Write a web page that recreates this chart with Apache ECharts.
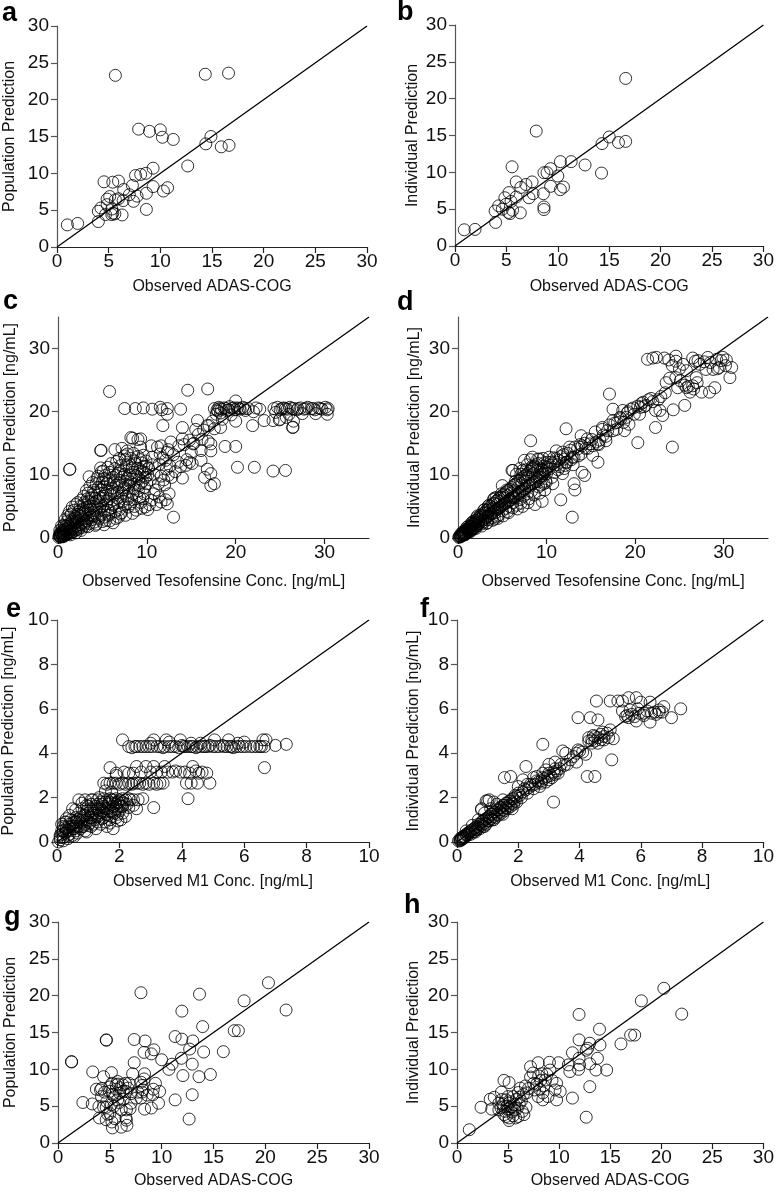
<!DOCTYPE html>
<html>
<head>
<meta charset="utf-8">
<script src="https://cdn.jsdelivr.net/npm/echarts@6/dist/echarts.min.js"></script>
<style>
html,body{margin:0;padding:0;background:#fff;}
#chart{width:777px;height:1193px;}
</style>
</head>
<body>
<div id="chart"></div>
<script>
// ---------- data ----------
const panelA = [[1.0,3.0],[2.0,3.2],[14.35,23.45],[5.65,23.3],[16.6,23.6],[7.9,16.0],[8.95,15.7],[10.0,15.9],[10.2,14.9],[11.25,14.6],[14.9,15.0],[14.4,14.0],[15.9,13.6],[16.65,13.8],[12.65,11.0],[9.3,10.7],[8.6,10.0],[7.6,9.7],[8.1,9.85],[4.55,8.85],[5.4,8.8],[5.95,8.95],[7.3,8.35],[6.45,7.8],[9.3,8.2],[10.7,8.05],[10.3,7.6],[8.65,7.3],[7.75,6.9],[7.0,7.1],[5.1,6.85],[5.95,6.55],[5.65,6.4],[4.85,6.5],[6.4,6.3],[7.4,6.2],[4.25,5.3],[4.0,4.85],[5.3,5.15],[5.4,4.6],[5.3,4.4],[5.6,4.5],[6.3,4.35],[8.65,5.1],[4.0,3.45],[4.7,4.4],[4.85,5.75]];
const panelB = [[0.9,2.2],[1.95,2.25],[16.6,22.75],[7.9,15.6],[5.55,10.75],[14.3,13.9],[15.0,14.8],[15.9,14.05],[16.6,14.2],[14.25,9.9],[12.65,11.0],[11.3,11.45],[10.25,11.45],[9.3,10.5],[8.65,9.95],[8.95,9.95],[10.0,9.5],[9.3,8.1],[8.6,7.1],[10.25,7.65],[10.55,8.0],[7.5,8.7],[6.9,8.35],[6.4,7.95],[5.95,8.7],[7.6,7.1],[7.2,6.55],[5.95,6.65],[5.25,7.25],[4.85,6.55],[5.45,6.05],[4.95,5.65],[4.25,5.45],[3.9,4.75],[4.6,5.0],[5.2,4.55],[5.6,4.85],[6.35,4.5],[3.95,3.2],[8.65,5.3],[8.65,4.95],[5.35,4.4]];
const panelC = [
[0.1,0.1],[0.2,0.3],[0.3,0.2],[0.4,0.5],[0.5,0.3],[0.6,0.8],[0.7,0.5],[0.8,1.1],[0.9,0.6],[1.0,1.4],[1.1,0.9],[1.2,1.8],[1.3,1.0],[1.4,2.2],[1.5,1.3],[1.6,2.6],[1.7,1.5],[1.8,3.0],[1.9,1.7],[2.0,2.4],[0.3,0.9],[0.5,1.6],[0.7,2.0],[1.0,2.6],[1.2,3.3],[1.5,3.8],[1.8,4.4],[0.2,0.6],[0.6,1.2],[0.9,1.9],[1.3,4.2],[2.0,5.3],
[2.1,3.2],[2.2,2.0],[2.3,4.1],[2.4,2.8],[2.5,5.0],[2.6,3.5],[2.7,2.4],[2.8,4.6],[2.9,3.0],[3.0,5.6],[3.1,3.8],[3.2,2.7],[3.3,6.2],[3.4,4.4],[3.5,9.7],[3.6,5.1],[3.7,3.3],[3.8,6.8],[3.9,4.0],[4.0,7.5],[2.3,1.6],[2.6,6.0],[3.0,2.2],[3.4,7.1],[3.8,2.9],[4.0,5.5],[2.8,3.9],[3.6,8.2],
[4.1,3.5],[4.2,6.3],[4.3,8.6],[4.4,4.9],[4.5,9.8],[4.6,3.0],[4.7,7.0],[4.8,5.4],[4.9,10.5],[5.0,2.6],[5.1,6.6],[5.2,8.1],[5.3,4.2],[5.4,9.2],[5.5,5.9],[5.6,7.6],[5.7,3.6],[5.8,10.4],[5.9,6.9],[6.0,4.8],[4.3,2.2],[4.6,5.9],[5.0,8.9],[5.4,2.8],[5.6,11.2],[5.9,8.5],[4.8,11.1],[5.3,9.9],
[6.1,7.9],[6.2,9.6],[6.3,5.4],[6.4,11.0],[6.5,3.1],[6.6,8.4],[6.7,6.3],[6.8,10.2],[6.9,4.5],[7.0,9.1],[7.1,11.5],[7.2,7.1],[7.3,5.8],[7.4,10.8],[7.5,8.0],[7.6,12.4],[7.7,6.6],[7.8,9.5],[7.9,4.9],[8.0,11.3],[6.2,2.4],[6.6,12.1],[7.0,3.8],[7.5,13.0],[8.0,7.4],[6.4,14.0],[7.2,14.2],
[8.1,8.9],[8.2,12.6],[8.3,6.1],[8.4,10.4],[8.5,13.4],[8.6,7.8],[8.7,11.8],[8.8,4.4],[8.9,9.7],[9.0,12.9],[9.1,8.3],[9.2,10.9],[9.3,5.6],[9.4,11.9],[9.5,9.0],[9.6,13.1],[9.7,7.0],[9.8,10.3],[9.9,12.2],[10.0,8.6],[8.4,15.8],[9.0,15.6],[8.6,5.0],[9.2,6.4],[9.8,4.9],
[10.2,11.0],[10.4,9.2],[10.6,12.8],[10.8,10.1],[11.0,7.6],[11.2,14.4],[11.4,11.7],[11.6,9.8],[11.8,12.6],[12.0,8.4],[12.2,10.9],[12.4,14.0],[12.6,11.4],[12.8,9.6],[13.0,13.2],[10.5,6.0],[11.1,5.3],[12.5,7.0],[13.2,10.5],[13.5,12.0],[13.8,11.3],[12.7,15.2],[13.6,14.6],
[14.2,14.8],[14.8,15.5],[15.3,15.0],[15.8,16.4],[16.4,17.1],[17.0,17.8],[17.4,18.5],[17.8,19.6],[18.0,20.1],[18.3,19.8],[15.5,17.2],[16.2,15.6],[16.9,15.3],[17.2,13.8],[14.5,12.4],[15.1,11.8],
[17.6,20.5],[17.9,20.3],[18.1,20.7],[18.4,20.4],[18.7,20.6],[19.0,20.2],[19.3,20.8],[19.6,20.5],[19.9,20.3],[20.2,20.6],[20.5,20.4],[20.8,20.7],[21.1,20.2],[21.4,20.5],[22.3,20.6],[22.7,20.4],[24.3,20.5],[24.7,20.7],[25.0,20.3],[25.4,20.6],[25.8,20.4],[26.1,20.7],[26.5,20.5],[26.9,20.3],[27.3,20.6],[27.7,20.4],[28.1,20.7],[28.5,20.5],[28.9,20.3],[29.3,20.6],[29.7,20.4],[30.1,20.7],[30.4,20.5],[29.0,19.7],[30.3,19.6],[27.5,19.7],[26.0,19.6],[24.5,19.9],[22.0,20.0],[18.5,18.8],[19.5,19.5],[20.0,18.5],[25.0,18.8],[26.5,18.5],
[5.8,23.2],[14.6,23.4],[16.85,23.6],[1.3,10.85],[1.35,10.9],[4.8,13.85],[4.85,13.9],[7.5,20.5],[8.7,20.5],[9.6,20.6],[10.6,20.4],[11.5,20.7],[11.7,20.3],[12.3,20.5],[13.8,20.4],[20.0,21.7],[21.9,17.8],[23.2,18.6],[24.2,18.6],[24.9,18.7],[25.7,19.1],[26.4,17.5],[26.45,17.55],[20.2,11.2],[22.1,11.2],[24.2,10.6],[25.6,10.7],[18.8,14.5],[20.0,14.5],[16.1,13.85],[16.1,12.3],[16.5,9.6],[17.2,10.2],[17.6,8.6],[17.2,8.3],[16.8,10.9],[14.0,9.5],[13.0,3.3],[12.1,6.05],[12.3,5.4],[11.4,6.5],[11.6,5.7],[10.1,4.5],[14.0,17.5],[14.0,15.7],[15.7,18.6],[16.8,17.8],[17.6,17.3],[18.3,17.5],[15.2,14.9],[15.0,13.6],[14.4,11.5],[14.8,12.0],[17.2,14.9],[12.3,13.6],[10.5,14.6],[9.3,15.7],[8.2,15.9],[7.8,13.8],[9.3,14.4],[11.6,14.6],[12.3,19.6],[11.8,17.8]
];
const panelCcore = [
[0.15,0.4],[0.25,0.15],[0.35,0.7],[0.45,0.25],[0.55,1.0],[0.65,0.35],[0.75,1.4],[0.85,0.45],[0.95,1.1],[1.05,0.55],[1.15,2.1],[1.25,0.7],[1.35,1.6],[1.45,0.8],[1.55,2.9],[1.65,1.0],[1.75,2.2],[1.85,1.1],[1.95,3.4],[2.05,1.3],
[2.15,2.6],[2.25,3.7],[2.35,1.4],[2.45,4.4],[2.55,2.1],[2.65,3.0],[2.75,1.7],[2.85,5.2],[2.95,2.5],[3.05,4.1],[3.15,1.9],[3.25,4.9],[3.35,3.1],[3.45,5.8],[3.55,2.3],[3.65,4.6],[3.75,6.3],[3.85,3.6],[3.95,5.0],[4.05,2.5],
[4.15,7.2],[4.25,4.4],[4.35,5.8],[4.45,3.3],[4.55,8.0],[4.65,4.6],[4.75,6.4],[4.85,3.6],[4.95,7.6],[5.05,5.0],[5.15,9.4],[5.25,3.3],[5.35,7.0],[5.45,5.4],[5.55,8.6],[5.65,4.4],[5.75,6.2],[5.85,9.1],[5.95,3.9],[6.05,7.4],
[6.15,5.2],[6.25,8.9],[6.35,6.8],[6.45,4.2],[6.55,9.9],[6.65,7.2],[6.75,5.6],[6.85,8.7],[6.95,10.6],[7.05,6.6],[7.15,4.0],[7.25,9.6],[7.35,7.6],[7.45,5.2],[7.55,10.1],[7.65,8.5],[7.75,11.6],[7.85,6.2],[7.95,8.3],[8.05,10.0],
[8.15,5.4],[8.25,9.3],[8.35,11.1],[8.45,7.0],[8.55,8.5],[8.65,12.2],[8.75,9.9],[8.85,6.6],[8.95,11.0],[9.05,7.5],[9.15,9.4],[9.25,12.4],[9.35,8.7],[9.45,10.4],[9.55,6.2],[9.65,11.3],[9.75,8.0],[9.85,9.6],[9.95,11.4],[10.1,10.0],
[0.2,1.2],[0.4,1.9],[0.8,2.9],[1.1,3.6],[1.6,4.9],[2.2,5.6],[2.9,6.6],[3.2,7.5],[3.9,8.8],[4.4,9.4],[5.1,10.6],[6.0,11.8],[6.9,12.6],[7.8,13.3],[0.6,0.2],[1.4,0.5],[2.0,0.8],[2.6,1.2],[3.4,1.8],[4.2,2.0],[5.2,2.1],[5.8,2.7],[6.8,3.3],[7.6,3.6],[8.4,3.9],[9.4,4.7],[10.3,5.3],[10.8,7.0],[11.3,8.6],[11.9,9.2],[12.4,9.9],[10.6,11.6],[11.5,13.3],[12.1,12.3],
[18.2,20.5],[18.9,20.5],[19.2,20.3],[19.8,20.6],[20.4,20.5],[21.0,20.5],[25.2,20.5],[25.6,20.5],[26.3,20.5],[27.0,20.5],[27.9,20.5],[28.7,20.5],[29.5,20.5],[30.3,20.3]
];
const panelD = [
[0.1,0.1],[0.2,0.3],[0.3,0.2],[0.4,0.5],[0.5,0.4],[0.6,0.7],[0.7,0.5],[0.8,0.9],[0.9,0.7],[1.0,1.2],[1.1,0.9],[1.2,1.4],[1.3,1.1],[1.4,1.7],[1.5,1.2],[1.6,1.9],[1.7,1.4],[1.8,2.2],[1.9,1.6],[2.0,2.4],[0.3,0.6],[0.6,1.0],[0.9,1.4],[1.2,1.9],[1.5,2.3],[1.8,2.7],[2.1,3.2],[0.8,0.5],[1.4,1.0],[2.0,1.5],
[2.2,2.0],[2.4,2.9],[2.6,2.2],[2.8,3.4],[3.0,2.6],[3.2,3.9],[3.4,2.9],[3.6,4.3],[3.8,3.2],[4.0,4.8],[2.5,3.6],[3.0,4.5],[3.5,5.2],[4.0,6.1],[2.7,1.9],[3.3,2.4],[3.9,2.8],[2.3,2.6],[3.1,3.3],[3.7,3.9],
[4.2,4.0],[4.4,5.3],[4.6,3.6],[4.8,5.8],[5.0,4.3],[5.2,6.3],[5.4,4.7],[5.6,6.7],[5.8,5.0],[6.0,7.1],[4.3,6.4],[4.9,7.0],[5.5,7.6],[6.1,10.7],[4.5,3.1],[5.1,3.5],[5.7,4.0],[4.7,4.9],[5.3,5.5],[5.9,6.1],[5.0,8.3],[4.1,3.0],
[6.2,5.6],[6.4,7.5],[6.6,5.2],[6.8,8.0],[7.0,6.1],[7.2,8.6],[7.4,6.6],[7.6,9.1],[7.8,7.0],[8.0,9.6],[6.5,9.0],[7.1,10.1],[7.7,10.8],[8.2,12.4],[6.7,4.6],[7.3,5.0],[7.9,5.6],[6.3,6.4],[6.9,7.0],[7.5,7.7],[7.0,11.0],[8.1,8.2],
[8.3,7.4],[8.5,10.2],[8.7,5.3],[8.9,10.6],[9.1,8.1],[9.3,11.0],[9.5,5.8],[9.7,11.4],[9.9,9.0],[10.1,12.0],[8.4,11.4],[9.0,12.5],[9.6,12.6],[8.6,6.8],[9.2,7.1],[9.8,7.6],[8.8,8.9],[9.4,9.6],[10.0,10.2],
[10.3,10.9],[10.7,11.8],[11.1,12.6],[11.5,11.3],[11.9,13.2],[12.3,12.0],[12.7,13.9],[13.1,12.8],[13.5,14.1],[13.9,13.3],[14.3,15.0],[14.7,14.2],[15.1,15.6],[15.5,16.8],[15.9,14.8],[16.3,17.2],[16.7,16.1],[17.1,17.9],[17.5,18.6],[17.9,17.2],[18.3,19.1],[18.7,18.3],[19.1,19.8],[19.5,20.4],[19.9,19.6],[20.3,20.9],[20.7,21.3],[21.0,20.8],[21.5,21.9],[22.0,21.6],[18.8,17.0],[19.3,18.0],[16.0,15.5],[13.0,11.6],[12.0,11.0],
[11.1,13.8],[11.8,13.6],[12.6,14.4],[10.5,12.0],[11.4,12.3],[12.2,12.0],[12.9,12.8],[9.9,10.7],[10.9,10.4],[11.8,10.2],[9.2,9.6],[9.7,8.6],[10.7,8.6],[8.4,12.8],[9.2,12.5],[8.4,11.2],[7.5,12.3],[10.3,12.8],[8.2,15.4],[6.2,10.7],
[21.4,28.3],[22.4,28.6],[23.3,28.5],[24.6,28.8],[26.5,28.5],[27.1,28.1],[28.2,28.6],[29.2,28.3],[29.7,28.1],[30.3,28.2],[30.9,27.0],[30.7,25.4],[29.0,23.8],[28.0,26.7],[28.8,26.7],[29.5,27.0],[25.4,27.5],[24.6,28.0],[23.5,24.6],[25.1,24.9],[24.8,23.8],[25.8,23.8],[26.5,24.1],[26.2,23.1],[28.4,23.1],[27.5,23.1],[25.8,26.5],[26.9,25.4],[24.6,25.4],[25.6,21.0],[23.1,19.4],[24.3,20.3],[22.3,17.5],[24.2,14.4],[20.3,15.1],[22.3,20.2],[22.8,20.2],[21.2,21.0],[20.5,19.6],[19.0,19.1],[17.1,22.8],[17.5,20.4],[18.6,20.2],[18.0,18.3],[16.3,17.5],[17.5,17.0],[16.7,15.4],[15.8,14.9],[15.2,14.6],[15.2,13.1],[15.8,12.0],[14.6,15.7],[13.9,16.2],[12.2,17.3],[14.0,10.4],[14.3,9.9],[13.1,8.6],[13.2,7.6],[12.9,3.3],[11.6,6.05]
];
const panelDcore = [
[0.15,0.2],[0.25,0.35],[0.35,0.3],[0.45,0.6],[0.55,0.5],[0.65,0.8],[0.75,0.6],[0.85,1.1],[0.95,0.9],[1.05,1.4],[1.15,1.0],[1.25,1.6],[1.35,1.3],[1.45,1.9],[1.55,1.5],[1.65,2.2],[1.75,1.6],[1.85,2.4],[1.95,1.9],[2.05,2.8],
[2.15,2.2],[2.25,3.0],[2.35,2.3],[2.45,3.3],[2.55,2.5],[2.65,3.6],[2.75,2.8],[2.85,3.9],[2.95,2.9],[3.05,4.1],[3.15,3.2],[3.25,4.4],[3.35,3.4],[3.45,4.6],[3.55,3.6],[3.65,5.0],[3.75,3.8],[3.85,5.3],[3.95,4.0],[4.05,5.5],
[4.15,4.3],[4.25,5.8],[4.35,4.5],[4.45,6.0],[4.55,4.6],[4.65,6.3],[4.75,4.8],[4.85,6.5],[4.95,5.1],[5.05,6.8],[5.15,5.3],[5.25,7.0],[5.35,5.5],[5.45,7.3],[5.55,5.6],[5.65,7.5],[5.75,5.9],[5.85,7.7],[5.95,6.0],[6.05,8.0],
[6.15,6.4],[6.25,8.3],[6.35,6.5],[6.45,8.5],[6.55,6.7],[6.65,8.7],[6.75,6.9],[6.85,9.0],[6.95,7.2],[7.05,9.2],[7.15,7.4],[7.25,9.5],[7.35,7.5],[7.45,9.7],[7.55,7.8],[7.65,10.0],[7.75,8.0],[7.85,10.2],[7.95,8.3],[8.05,10.5],
[8.15,8.5],[8.25,10.8],[8.35,8.6],[8.45,11.0],[8.55,8.8],[8.65,11.3],[8.75,9.0],[8.85,11.6],[8.95,9.3],[9.05,11.8],[9.15,9.5],[9.25,10.4],[9.35,8.4],[9.45,10.8],[9.55,9.9],[9.65,10.2],[9.75,11.9],[9.85,10.5],[9.95,8.8],[10.05,11.2],
[10.4,11.5],[10.8,12.7],[11.2,11.6],[11.6,12.9],[12.0,12.5],[12.4,13.4],[12.8,12.4],[13.2,14.4],[13.6,13.0],[14.0,14.6],[10.6,9.6],[11.3,10.8],[12.1,11.5],[0.5,0.9],[1.0,1.7],[1.6,2.5],[2.2,3.5],[2.9,4.4],[3.4,5.0],[4.1,6.3],[3.2,2.3],[4.4,3.4],[5.6,4.2],[6.2,4.8],[7.1,5.5],[8.0,6.2],[6.6,10.1],[7.3,10.7],[7.8,11.6],
[22.0,28.5],[23.8,28.2],[24.2,27.3],[25.0,26.8],[25.6,24.2],[26.0,24.0],[26.8,28.0],[27.3,27.5],[27.8,27.9],[28.5,27.8],[29.3,26.8],[29.9,28.6],[30.2,27.3],[27.0,24.6],[26.6,23.6],[23.9,25.3],[22.6,21.9],[21.8,22.1],[20.9,21.5],[20.6,20.7],[19.8,20.6],[19.2,20.0],[18.4,18.9],[17.7,18.2],[16.9,17.0],[16.4,16.3],[15.6,15.2],[14.9,14.9],[14.4,14.2],[13.8,14.8],[22.9,22.4],[23.4,23.0]
];
const panelE = [
[0.05,0.0],[0.1,0.1],[0.1,0.3],[0.15,0.5],[0.2,0.2],[0.2,0.7],[0.25,0.4],[0.3,0.6],[0.3,0.9],[0.35,0.3],[0.4,0.8],[0.4,0.5],[0.45,1.0],[0.5,0.6],[0.5,0.3],[0.55,0.9],[0.6,0.7],[0.6,1.1],[0.65,0.4],[0.7,0.9],[0.7,1.3],[0.75,0.6],[0.8,1.0],[0.8,1.5],[0.85,0.7],[0.9,1.2],[0.9,0.5],[0.95,1.4],[1.0,0.9],[1.0,1.6],[1.05,1.1],[1.1,0.7],[1.1,1.4],[1.15,1.9],[1.2,1.0],[1.2,1.3],[1.25,1.6],[1.3,0.9],[1.3,1.5],[1.35,1.2],[1.4,1.8],[1.4,0.8],[1.45,1.4],[1.5,1.1],[1.5,1.6],[1.55,0.9],[1.6,1.5],[1.6,0.7],[1.65,1.2],[1.7,1.8],[1.7,1.0],[1.75,1.4],[1.8,1.6],[1.8,0.6],[1.85,1.3],[1.9,1.7],[1.9,1.1],[1.95,1.8],[2.0,1.4],[2.05,1.0],[2.1,1.6],[0.2,0.05],[0.35,0.15],[0.55,0.25],[0.95,0.45],[1.25,0.6],[0.15,0.8],[0.25,0.9],[0.5,1.5],[0.7,1.9],
[0.9,1.9],[1.1,1.9],[1.3,1.9],[1.6,1.9],[1.8,1.9],[2.0,1.9],[2.2,1.9],[2.45,1.9],[2.75,1.95],[2.55,1.5],[4.2,1.95],[3.1,1.55],
[1.5,2.65],[1.7,2.65],[1.9,2.65],[2.1,2.65],[2.3,2.65],[2.45,2.65],[2.65,2.65],[2.85,2.65],[3.1,2.65],[3.3,2.65],[4.15,2.65],[4.3,2.65],[4.5,2.65],[4.9,2.65],
[1.7,3.35],[1.9,3.1],[2.15,3.15],[2.45,3.1],[2.55,3.4],[2.85,3.4],[3.1,3.4],[3.2,3.15],[3.35,3.15],[3.55,3.15],[3.7,3.15],[3.95,3.15],[4.35,3.4],[4.25,3.1],[4.55,3.1],[4.8,3.1],
[2.1,4.6],[2.3,4.3],[2.5,4.3],[2.65,4.3],[2.85,4.3],[3.1,4.6],[3.3,4.3],[3.5,4.6],[3.6,4.3],[3.95,4.6],[4.05,4.3],[4.2,4.3],[4.35,4.3],[4.5,4.3],[4.7,4.3],[4.85,4.3],[5.05,4.6],[5.1,4.3],[5.35,4.3],[5.5,4.6],[5.55,4.3],[5.75,4.3],[5.95,4.3],[6.2,4.3],[6.4,4.3],[6.55,4.3],[6.6,4.6],[6.7,4.6],[6.65,4.3],[7.0,4.35],[7.35,4.4],[6.65,3.35]
];
const panelEcore = [
[0.1,0.2],[0.15,0.35],[0.2,0.5],[0.25,0.65],[0.3,0.45],[0.35,0.55],[0.4,0.35],[0.45,0.7],[0.5,0.85],[0.55,0.6],[0.6,0.9],[0.6,0.5],[0.65,1.0],[0.7,0.7],[0.75,1.1],[0.75,0.85],[0.8,0.7],[0.85,1.2],[0.85,0.95],[0.9,0.8],[0.95,1.0],[1.0,1.3],[1.0,0.75],[1.05,1.5],[1.05,0.85],[1.1,1.1],[1.15,1.3],[1.15,0.8],[1.2,1.5],[1.25,1.2],[1.3,1.7],[1.3,1.15],[1.35,1.45],[1.4,1.3],[1.45,1.7],[1.45,1.05],[1.5,1.35],[1.55,1.8],[1.55,1.5],[1.6,1.25],[1.65,1.7],[1.7,1.4],[1.75,1.15],[1.75,1.9],[1.8,1.35],[1.85,1.75],[1.9,1.5],[1.95,1.25],[2.0,1.65],[2.05,1.85],[2.1,1.3],[2.15,1.75],[0.95,1.65],[1.1,1.7],[0.8,1.75],[0.6,1.45],[0.4,1.2],[0.3,1.05],[1.7,0.85],[2.2,1.15],[2.3,1.55],[2.35,1.9],[1.95,0.95],
[2.4,4.25],[2.55,4.3],[2.75,4.3],[2.95,4.3],[3.05,4.3],[3.2,4.3],[3.4,4.25],[3.45,4.3],[3.7,4.3],[3.8,4.3],[3.9,4.25],[4.0,4.35],[4.1,4.3],[4.3,4.3],[4.45,4.25],[4.6,4.3],[4.75,4.3],[4.9,4.35],[5.0,4.3],[5.2,4.3],[5.3,4.35],[5.45,4.3],[5.6,4.3],[5.65,4.25],[5.85,4.3],[6.05,4.3],[6.3,4.3],[6.5,4.3],[4.3,4.45],[4.6,4.45],[5.8,4.45],[6.0,4.5],[3.0,4.45],[3.6,4.5],
[1.6,2.6],[1.8,2.65],[2.0,2.6],[2.2,2.6],[2.4,2.6],[2.55,2.65],[2.75,2.6],[2.95,2.6],[3.2,2.6],[3.4,2.65],[1.9,3.0],[2.3,3.1],[2.7,3.15],[3.0,3.15],[3.45,3.4],[3.8,3.2],[4.1,3.15],[4.45,3.2],[4.65,3.15],[1.55,2.3],[1.75,2.25],[1.35,2.0],[1.5,1.95],[1.7,1.95],[1.9,1.95],[2.1,1.95],[2.3,1.95],[2.05,1.6],[2.25,1.7],[2.45,1.65],[2.6,1.9]
];
const panelF = [
[0.05,0.05],[0.1,0.15],[0.15,0.1],[0.2,0.25],[0.25,0.2],[0.3,0.35],[0.35,0.3],[0.4,0.45],[0.45,0.35],[0.5,0.55],[0.55,0.45],[0.6,0.65],[0.65,0.55],[0.7,0.8],[0.75,0.6],[0.8,0.9],[0.85,0.7],[0.9,1.0],[0.95,0.8],[1.0,1.1],[1.05,0.95],[1.1,1.25],[1.15,1.0],[1.2,1.35],[1.25,1.1],[1.3,1.45],[1.35,1.2],[1.4,1.55],[1.45,1.3],[1.5,1.65],[1.55,1.4],[1.6,1.75],[1.65,1.5],[1.7,1.85],[1.75,1.6],[1.8,1.95],[1.85,1.7],[1.9,2.1],[1.95,1.8],[2.0,2.2],[2.1,2.0],[2.2,2.4],[2.3,2.2],[2.4,2.6],[2.5,2.4],[2.6,2.75],[2.7,2.5],[2.8,2.9],[2.9,2.7],[3.0,3.1],[3.1,2.9],[3.2,3.3],[3.3,3.1],[3.4,3.5],[0.3,0.5],[0.5,0.75],[0.7,1.0],[0.9,1.3],[1.1,1.5],[1.3,1.7],[1.5,1.9],[0.6,0.45],[0.9,0.7],[1.2,1.0],[1.5,1.25],[1.8,1.5],[0.8,1.45],[1.0,1.85],[1.2,1.8],[0.15,0.2],[0.1,0.05],[0.2,0.15],[2.0,2.5],[2.3,2.6],[2.5,2.9],[2.8,3.1],
[4.55,6.35],[5.0,6.35],[5.25,6.35],[5.4,6.35],[5.6,6.5],[5.85,6.5],[6.0,6.3],[6.3,6.3],[6.1,5.8],[5.4,5.9],[5.5,5.65],[5.8,5.65],[6.3,5.4],[6.45,5.85],[6.6,5.85],[6.75,6.1],[7.0,5.6],[7.3,6.0],[5.85,5.45],[5.6,5.6],[5.0,5.05],
[4.35,5.6],[4.6,5.5],[3.95,5.6],[3.95,4.15],[4.2,3.95],[4.3,4.7],[4.5,4.75],[4.7,4.85],[4.9,4.9],[4.8,4.6],[5.05,3.7],[4.25,2.95],[4.5,2.95],[3.9,3.6],[4.4,4.45],[4.6,4.45],
[3.45,4.1],[3.55,4.0],[3.2,3.6],[3.0,3.5],[2.9,3.25],[2.25,3.4],[2.8,4.4],[3.15,1.8],[1.55,2.9],[1.75,2.95],[2.15,2.8],[2.6,2.95],[2.75,2.65],[3.0,2.8],[3.2,3.05],[0.95,1.85],[1.05,1.9],[0.8,1.5]
];
const panelFcore = [
[0.1,0.1],[0.15,0.15],[0.2,0.2],[0.25,0.25],[0.3,0.3],[0.35,0.4],[0.4,0.4],[0.45,0.5],[0.5,0.45],[0.55,0.6],[0.6,0.55],[0.65,0.7],[0.7,0.65],[0.75,0.8],[0.8,0.75],[0.85,0.95],[0.9,0.85],[0.95,1.05],[1.0,0.95],[1.05,1.15],[1.1,1.05],[1.15,1.25],[1.2,1.15],[1.25,1.35],[1.3,1.25],[1.35,1.45],[1.4,1.35],[1.45,1.55],[1.5,1.45],[1.55,1.65],[1.6,1.55],[1.65,1.75],[1.7,1.65],[1.75,1.85],[1.8,1.75],[1.85,1.95],[1.9,1.85],[1.95,2.05],[2.05,2.1],[2.15,2.25],[2.25,2.35],[2.35,2.45],[2.45,2.55],[2.55,2.6],[2.65,2.7],[2.75,2.75],[2.85,2.85],[2.95,2.95],[3.05,3.0],[3.15,3.15],[3.25,3.2],[3.35,3.3],[3.5,3.45],[3.6,3.5],[3.7,3.7],[3.8,3.85],[3.9,4.0],[4.0,4.1],[4.1,4.05],[4.3,4.55],[4.4,4.6],[4.5,4.55],[4.6,4.7],[4.7,4.6],[4.8,4.75],[4.95,4.7],[5.1,4.65],[4.45,4.8],[4.75,4.95],
[5.55,5.7],[5.7,5.75],[5.95,5.8],[6.1,5.7],[6.2,5.9],[6.35,5.8],[6.5,5.75],[6.6,5.95],[6.7,5.85],[5.65,5.95],[5.9,6.0]
];
const panelG = [[1.3,11.05],[1.32,11.0],[4.65,14.0],[4.67,13.95],[8.0,20.4],[13.65,20.2],[20.3,21.75],[22.0,18.05],[17.95,19.3],[17.0,15.25],[17.4,15.25],[13.95,15.8],[11.95,17.9],[11.3,14.45],[11.95,14.1],[13.0,13.85],[12.7,12.75],[14.05,12.35],[15.95,12.4],[12.95,10.7],[12.05,9.15],[13.6,9.0],[14.7,9.3],[12.95,6.55],[12.65,3.25],[11.3,5.85],[11.9,11.5],[11.0,10.7],[10.7,10.0],[10.0,11.3],[9.25,12.65],[8.4,13.85],[7.35,14.05],[8.3,12.3],[9.0,12.1],[7.35,10.9],[7.2,9.4],[8.35,9.4],[8.0,8.25],[8.2,7.2],[8.0,6.1],[9.4,8.1],[9.8,7.0],[9.15,6.55],[9.0,4.75],[8.35,4.6],[9.7,5.4],[6.85,8.1],[7.05,6.7],[6.25,7.9],[5.6,7.9],[5.2,8.1],[5.15,9.55],[4.4,9.0],[3.35,9.65],[3.7,7.3],[4.1,7.2],[4.2,6.3],[4.95,7.0],[5.45,6.3],[5.95,6.75],[6.55,7.0],[2.4,5.5],[3.3,5.3],[3.95,4.95],[4.65,4.85],[5.15,5.2],[5.75,5.85],[6.95,4.65],[6.1,4.5],[4.0,3.4],[4.65,3.15],[5.2,2.85],[5.25,2.05],[6.1,2.15],[6.55,3.4],[6.65,2.4],[7.05,5.4],[7.55,6.1],[5.75,8.35],[6.75,7.45],
[4.2,7.4],[4.5,6.9],[5.0,7.6],[5.3,6.6],[5.6,7.3],[5.8,8.0],[6.0,7.5],[6.3,7.0],[6.5,8.1],[4.7,5.6],[5.4,5.0],[5.9,5.5],[6.3,5.9],[4.4,4.9],[5.0,4.0],[6.6,4.5],[8.1,7.8],[8.3,8.7],[8.1,6.9],[8.6,6.5],[9.2,7.3],[7.7,6.9],[4.8,3.9],[5.5,3.3],[6.6,3.1]];
const panelH = [[1.2,1.8],[2.35,4.85],[3.25,5.95],[3.65,6.2],[3.4,4.6],[4.6,8.5],[5.1,8.2],[4.35,6.9],[4.1,5.4],[4.1,4.5],[4.6,4.95],[5.1,5.4],[4.8,5.85],[5.5,6.3],[6.0,6.85],[6.2,7.45],[5.1,3.4],[4.6,3.85],[5.75,3.4],[6.55,3.85],[6.75,4.85],[5.65,4.5],[6.1,5.3],[5.1,3.05],[6.7,7.75],[7.2,8.95],[7.45,9.5],[7.2,10.35],[7.95,10.9],[7.5,8.1],[8.1,7.3],[7.95,6.3],[8.4,5.85],[8.65,8.55],[8.3,9.4],[9.1,9.9],[9.05,10.95],[9.95,10.9],[8.9,6.3],[9.6,7.2],[9.75,8.1],[9.75,5.85],[10.1,7.0],[10.9,10.6],[11.05,9.7],[11.3,12.25],[11.3,6.1],[11.95,17.45],[11.95,14.0],[11.95,11.5],[12.0,10.6],[11.9,10.0],[12.65,12.6],[12.8,12.85],[13.0,13.55],[13.0,10.75],[13.0,7.65],[12.65,3.5],[13.95,15.45],[14.0,13.3],[13.75,11.5],[13.6,9.9],[14.65,9.9],[16.05,13.45],[17.0,14.65],[17.4,14.65],[18.05,19.3],[20.25,21.0],[22.0,17.5],
[4.3,4.8],[4.5,5.3],[4.7,4.3],[4.9,5.0],[5.0,4.6],[5.2,5.6],[5.3,4.9],[5.4,4.2],[5.6,5.2],[5.8,5.9],[5.9,4.7],[6.1,6.2],[6.3,5.7],[6.4,4.3],[6.5,6.6],[6.8,6.8],[7.0,7.4],[5.0,6.3],[4.4,5.9],[4.8,3.6],[5.5,3.7],[6.0,3.6],[7.8,8.0],[8.2,8.5],[8.5,7.8],[8.0,9.1],[8.8,9.3],[9.3,8.5],[7.6,7.2],[8.4,6.8]];

const panelLetters = ['a','b','c','d','e','f','g','h'];
const yNames = ['Population Prediction','Individual Prediction','Population Prediction [ng/mL]','Individual Prediction [ng/mL]','Population Prediction [ng/mL]','Individual Prediction [ng/mL]','Population Prediction','Individual Prediction'];
const xNames = ['Observed ADAS-COG','Observed ADAS-COG','Observed Tesofensine Conc. [ng/mL]','Observed Tesofensine Conc. [ng/mL]','Observed M1 Conc. [ng/mL]','Observed M1 Conc. [ng/mL]','Observed ADAS-COG','Observed ADAS-COG'];
const axisMax = [30,30,35,35,10,10,30,30];
const ticksADAS = [0,5,10,15,20,25,30];
const ticksTeso = [0,10,20,30];
const ticksM1 = [0,2,4,6,8,10];
const panelTicks = [ticksADAS,ticksADAS,ticksTeso,ticksTeso,ticksM1,ticksM1,ticksADAS,ticksADAS];
const panels = [panelA,panelB,panelC.concat(panelCcore),panelD.concat(panelDcore),panelE.concat(panelEcore),panelF.concat(panelFcore),panelG,panelH];

// ---------- layout ----------
const grids = [
  {left:57,top:26,width:310,height:221},
  {left:455,top:25,width:310,height:221},
  {left:58,top:317,width:311,height:221},
  {left:458,top:317,width:310,height:221},
  {left:57,top:620,width:312,height:222},
  {left:457,top:620,width:311,height:222},
  {left:58,top:922,width:311,height:221},
  {left:457,top:922,width:311,height:221}
];
const letterPos = [[10,14],[405,13],[11,302],[405,303],[14,610],[428,610],[12,918],[412,906]];
const xNameGap = [32,33,36,36,32,32,30,30];
const yNameGap = [39,34,39,35,40,35,39,35];

const FONT = "'Liberation Sans', Arial, Helvetica, sans-serif";
const xAxes = [], yAxes = [], series = [], graphics = [];
grids.forEach((g, i) => {
  const ticks = panelTicks[i];
  xAxes.push({
    gridIndex:i, type:'value', min:0, max:axisMax[i],
    name:xNames[i], nameLocation:'middle', nameGap:xNameGap[i],
    nameTextStyle:{fontFamily:FONT,fontSize:16,color:'#111'},
    axisLine:{lineStyle:{color:'#222',width:1.2}},
    axisTick:{length:6,lineStyle:{color:'#222',width:1.2},customValues:ticks},
    axisLabel:{fontFamily:FONT,fontSize:19,color:'#111',margin:5,customValues:ticks},
    splitLine:{show:false}
  });
  yAxes.push({
    gridIndex:i, type:'value', min:0, max:axisMax[i],
    name:yNames[i], nameLocation:'middle', nameGap:yNameGap[i],
    nameTextStyle:{fontFamily:FONT,fontSize:16,color:'#111'},
    axisLine:{lineStyle:{color:'#555',width:1.2}},
    axisTick:{length:6,lineStyle:{color:'#555',width:1.2},customValues:ticks},
    axisLabel:{fontFamily:FONT,fontSize:19,color:'#111',margin:8,customValues:ticks},
    splitLine:{show:false}
  });
  series.push({
    type:'line', xAxisIndex:i, yAxisIndex:i,
    data:[[0,0],[axisMax[i],axisMax[i]]],
    symbol:'none', lineStyle:{color:'#000',width:1.3}, silent:true, z:3
  });
  series.push({
    type:'scatter', xAxisIndex:i, yAxisIndex:i, data:panels[i],
    symbol:'circle', symbolSize:12, clip:false,
    itemStyle:{color:'rgba(0,0,0,0)',borderColor:'#000',borderWidth:1},
    z:2
  });
  graphics.push({
    type:'text', left:letterPos[i][0]-8, top:letterPos[i][1]-14,
    style:{text:panelLetters[i], font:"bold 27px 'Liberation Sans', Arial, sans-serif", fill:'#000'}
  });
});

const chart = echarts.init(document.getElementById('chart'), null, {renderer:'canvas'});
chart.setOption({
  animation:false,
  backgroundColor:'#fff',
  grid:grids,
  xAxis:xAxes,
  yAxis:yAxes,
  series:series,
  graphic:graphics
});
</script>
</body>
</html>
